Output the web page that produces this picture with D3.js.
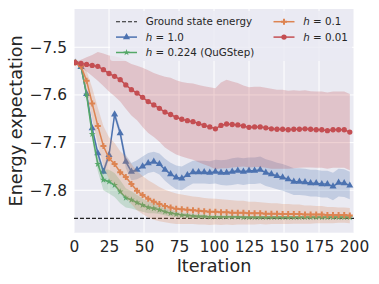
<!DOCTYPE html>
<html>
<head>
<meta charset="utf-8">
<script src="https://cdn.jsdelivr.net/npm/d3@7"></script>
<style>
body { margin: 0; background: white; }
text { font-family: "DejaVu Sans", sans-serif; fill: #262626; }
</style>
</head>
<body>
<svg id="chart" width="379" height="284"></svg>
<script>
"use strict";

// logged every 4 iterations
const iterations = d3.range(1, 200, 4);
const ground_energy = -7.859;
const x_ticks = [0, 25, 50, 75, 100, 125, 150, 175, 200];
const y_ticks = [-7.5, -7.6, -7.7, -7.8];

const h1_mean = [-7.532,-7.541,-7.598,-7.670,-7.722,-7.761,-7.726,-7.641,-7.680,-7.740,
    -7.761,-7.757,-7.750,-7.743,-7.740,-7.745,-7.757,-7.766,-7.773,-7.775,
    -7.768,-7.762,-7.762,-7.762,-7.763,-7.761,-7.763,-7.763,-7.761,-7.759,
    -7.761,-7.759,-7.759,-7.757,-7.763,-7.766,-7.770,-7.773,-7.777,-7.782,
    -7.782,-7.783,-7.785,-7.785,-7.787,-7.787,-7.792,-7.784,-7.785,-7.790];
const h1_sd = [0.001,0.004,0.006,0.008,0.008,0.008,0.008,0.008,0.010,0.014,
    0.018,0.020,0.021,0.021,0.021,0.022,0.023,0.024,0.025,0.025,
    0.024,0.024,0.024,0.024,0.024,0.025,0.026,0.027,0.028,0.028,
    0.028,0.028,0.028,0.028,0.028,0.028,0.028,0.028,0.028,0.028,
    0.028,0.028,0.028,0.028,0.028,0.028,0.029,0.029,0.029,0.029];

const h0224_mean = [-7.532,-7.540,-7.600,-7.682,-7.745,-7.778,-7.782,-7.789,-7.803,-7.816,
    -7.820,-7.826,-7.831,-7.836,-7.838,-7.841,-7.845,-7.848,-7.850,-7.852,
    -7.853,-7.854,-7.855,-7.855,-7.856,-7.856,-7.856,-7.856,-7.856,-7.856,
    -7.857,-7.857,-7.857,-7.857,-7.857,-7.857,-7.857,-7.857,-7.857,-7.857,
    -7.857,-7.857,-7.857,-7.857,-7.857,-7.857,-7.857,-7.857,-7.857,-7.857];
const h0224_sd = [0.001,0.004,0.008,0.012,0.015,0.022,0.025,0.025,0.024,0.020,
    0.018,0.016,0.014,0.012,0.010,0.009,0.008,0.007,0.006,0.005,
    0.005,0.004,0.004,0.004,0.003,0.003,0.003,0.003,0.003,0.003,
    0.003,0.003,0.003,0.003,0.003,0.003,0.003,0.003,0.003,0.003,
    0.003,0.003,0.003,0.003,0.003,0.003,0.003,0.003,0.003,0.003];

const h01_mean = [-7.532,-7.540,-7.570,-7.618,-7.665,-7.707,-7.733,-7.745,-7.762,-7.772,
    -7.787,-7.801,-7.810,-7.818,-7.824,-7.829,-7.833,-7.836,-7.839,-7.840,
    -7.841,-7.842,-7.843,-7.844,-7.845,-7.845,-7.846,-7.846,-7.847,-7.847,
    -7.847,-7.848,-7.848,-7.848,-7.849,-7.849,-7.849,-7.850,-7.850,-7.850,
    -7.850,-7.851,-7.851,-7.851,-7.851,-7.852,-7.852,-7.852,-7.852,-7.853];
const h01_sd = [0.001,0.006,0.020,0.033,0.038,0.042,0.044,0.044,0.044,0.043,
    0.042,0.041,0.040,0.039,0.038,0.036,0.034,0.033,0.032,0.031,
    0.030,0.029,0.029,0.028,0.028,0.027,0.027,0.026,0.026,0.025,
    0.025,0.024,0.024,0.023,0.023,0.022,0.022,0.021,0.021,0.020,
    0.020,0.019,0.019,0.018,0.018,0.017,0.017,0.016,0.016,0.016];

const h001_mean = [-7.532,-7.534,-7.536,-7.538,-7.540,-7.547,-7.555,-7.561,-7.568,-7.579,
    -7.589,-7.596,-7.605,-7.614,-7.621,-7.628,-7.636,-7.641,-7.647,-7.651,
    -7.654,-7.656,-7.660,-7.664,-7.667,-7.671,-7.664,-7.661,-7.662,-7.663,
    -7.665,-7.668,-7.667,-7.667,-7.669,-7.671,-7.672,-7.672,-7.673,-7.672,
    -7.672,-7.671,-7.672,-7.673,-7.673,-7.675,-7.673,-7.673,-7.673,-7.678];
const h001_sd = [0.002,0.008,0.015,0.022,0.030,0.034,0.038,0.042,0.046,0.050,
    0.054,0.057,0.062,0.066,0.067,0.070,0.074,0.077,0.078,0.078,
    0.079,0.080,0.081,0.082,0.083,0.085,0.090,0.093,0.090,0.088,
    0.085,0.084,0.084,0.084,0.084,0.084,0.083,0.083,0.082,0.082,
    0.081,0.081,0.080,0.080,0.080,0.080,0.080,0.080,0.080,0.080];

const series = [
    {label: "1.0", mean: h1_mean, sd: h1_sd, color: "#4c72b0", symbol: d3.symbolTriangle, size: 22},
    {label: "0.224 (QuGStep)", mean: h0224_mean, sd: h0224_sd, color: "#55a868", symbol: d3.symbolStar, size: 14},
    {label: "0.1", mean: h01_mean, sd: h01_sd, color: "#dd8452", symbol: d3.symbolCross, size: 20},
    {label: "0.01", mean: h001_mean, sd: h001_sd, color: "#c44e52", symbol: d3.symbolCircle, size: 22}
];

const svg = d3.select("#chart");
const plot = {left: 74, right: 354, top: 9, bottom: 232.7};

const xScale = d3.scaleLinear().domain([0, 200]).range([plot.left, plot.right]);
const yScale = d3.scaleLinear().domain([-7.889, -7.4197]).range([plot.bottom, plot.top]);

svg.append("defs").append("clipPath").attr("id", "clip")
    .append("rect")
    .attr("x", plot.left).attr("y", plot.top)
    .attr("width", plot.right - plot.left).attr("height", plot.bottom - plot.top);

svg.append("rect")
    .attr("x", plot.left).attr("y", plot.top)
    .attr("width", plot.right - plot.left).attr("height", plot.bottom - plot.top)
    .attr("fill", "#eaeaf2");

// grid
svg.append("g").selectAll("line").data(x_ticks).join("line")
    .attr("x1", d => xScale(d)).attr("x2", d => xScale(d))
    .attr("y1", plot.top).attr("y2", plot.bottom)
    .attr("stroke", "white").attr("stroke-width", 1);
svg.append("g").selectAll("line").data(y_ticks).join("line")
    .attr("x1", plot.left).attr("x2", plot.right)
    .attr("y1", d => yScale(d)).attr("y2", d => yScale(d))
    .attr("stroke", "white").attr("stroke-width", 1);

// tick labels
const x_axis = svg.append("g")
    .attr("transform", `translate(0,${plot.bottom})`)
    .call(d3.axisBottom(xScale).tickValues(x_ticks).tickSize(0).tickPadding(8.6));
const y_axis = svg.append("g")
    .attr("transform", `translate(${plot.left},0)`)
    .call(d3.axisLeft(yScale).tickValues(y_ticks).tickSize(0).tickPadding(7)
        .tickFormat(d => d3.format(".1f")(d).replace("-", "\u2212")));
for (const ax of [x_axis, y_axis]) {
    ax.select(".domain").remove();
    ax.selectAll("text")
        .attr("font-family", "DejaVu Sans")
        .attr("font-size", 15.4)
        .attr("fill", "#262626");
}

svg.append("text")
    .attr("x", (plot.left + plot.right) / 2).attr("y", 272)
    .attr("text-anchor", "middle").attr("font-size", 17.6)
    .text("Iteration");
svg.append("text")
    .attr("transform", `translate(22,${(plot.top + plot.bottom) / 2}) rotate(-90)`)
    .attr("text-anchor", "middle").attr("font-size", 17.6)
    .text("Energy expectation");

const g = svg.append("g").attr("clip-path", "url(#clip)");

// ground state
g.append("line")
    .attr("x1", plot.left).attr("x2", plot.right)
    .attr("y1", yScale(ground_energy)).attr("y2", yScale(ground_energy))
    .attr("stroke", "#222").attr("stroke-width", 1.1)
    .attr("stroke-dasharray", "4,2");

const area = d3.area()
    .x((d, i) => xScale(iterations[i]))
    .y0(d => yScale(d.lo))
    .y1(d => yScale(d.hi));
const line = d3.line()
    .x((d, i) => xScale(iterations[i]))
    .y(d => yScale(d));

for (const s of series) {
    const band = s.mean.map((m, i) => ({lo: m - s.sd[i], hi: m + s.sd[i]}));
    g.append("path")
        .attr("d", area(band))
        .attr("fill", s.color)
        .attr("fill-opacity", 0.25);
    g.append("path")
        .attr("d", line(s.mean))
        .attr("fill", "none")
        .attr("stroke", s.color)
        .attr("stroke-width", 1.5);
    g.append("g").selectAll("path").data(s.mean).join("path")
        .attr("transform", (d, i) => `translate(${xScale(iterations[i])},${yScale(d)})`)
        .attr("d", d3.symbol(s.symbol, s.size))
        .attr("fill", s.color);
}

// legend
const legend = svg.append("g");
legend.append("rect")
    .attr("x", 110).attr("y", 11).attr("width", 242).attr("height", 50).attr("rx", 3)
    .attr("fill", "#eaeaf2").attr("fill-opacity", 0.8);

const legend_items = [
    {col: 0, row: 0, s: null},
    {col: 0, row: 1, s: series[0]},
    {col: 0, row: 2, s: series[1]},
    {col: 1, row: 0, s: series[2]},
    {col: 1, row: 1, s: series[3]}
];
const col_x = [116, 273.5];
for (const item of legend_items) {
    const x0 = col_x[item.col];
    const yy = 21.7 + item.row * 15.4;
    const lg = legend.append("g");
    if (item.s === null) {
        lg.append("line")
            .attr("x1", x0).attr("x2", x0 + 21).attr("y1", yy).attr("y2", yy)
            .attr("stroke", "#222").attr("stroke-width", 1.1).attr("stroke-dasharray", "4,2");
        lg.append("text")
            .attr("x", x0 + 29.7).attr("y", yy).attr("dy", "0.35em")
            .attr("font-size", 10.3)
            .text("Ground state energy");
    } else {
        lg.append("line")
            .attr("x1", x0).attr("x2", x0 + 21).attr("y1", yy).attr("y2", yy)
            .attr("stroke", item.s.color).attr("stroke-width", 1.5);
        lg.append("path")
            .attr("transform", `translate(${x0 + 10.5},${yy})`)
            .attr("d", d3.symbol(item.s.symbol, item.s.size))
            .attr("fill", item.s.color);
        const t = lg.append("text")
            .attr("x", x0 + 29.7).attr("y", yy).attr("dy", "0.35em")
            .attr("font-size", 10.3);
        t.append("tspan").attr("font-style", "italic").text("h");
        t.append("tspan").text(" = " + item.s.label);
    }
}
</script>
</body>
</html>
